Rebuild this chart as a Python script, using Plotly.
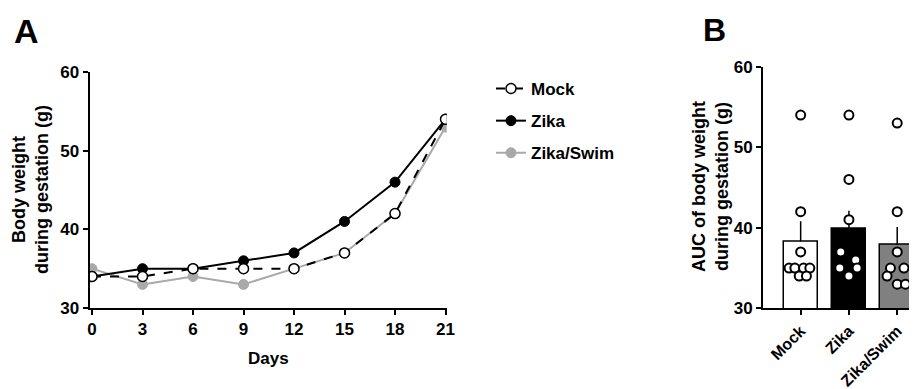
import plotly.graph_objects as go

# ---- Panel A data ----
days = [0, 3, 6, 9, 12, 15, 18, 21]
mock_weight = [34, 34, 35, 35, 35, 37, 42, 54]
zika_weight = [34, 35, 35, 36, 37, 41, 46, 54]
swim_weight = [35, 33, 34, 33, 35, 37, 42, 53]
day_ticks = [0, 3, 6, 9, 12, 15, 18, 21]
weight_ticks = [30, 40, 50, 60]

# ---- Panel B data ----
groups = ["Mock", "Zika", "Zika/Swim"]
auc_mean = [38.3, 39.9, 37.9]
auc_sem = [2.5, 2.2, 2.2]
mock_auc = [54, 42, 37, 35, 35, 35, 35, 34, 34]
zika_auc = [54, 46, 41, 37, 36, 35, 35, 34]
swim_auc = [53, 42, 37, 35, 35, 34, 33, 33]
# horizontal jitter (category units) used only for drawing the dots
mock_jit = [0, 0, 0, -0.24, -0.12, 0.06, 0.19, -0.03, 0.12]
zika_jit = [0, 0, 0, -0.17, 0.14, -0.19, 0.17, 0]
swim_jit = [0, 0, 0, -0.14, 0.14, -0.21, 0, 0.17]

FONT = "Liberation Sans, Arial, sans-serif"
GREY_LINE = "#a9a9a9"
GREY_BAR = "#808080"

W, H = 917, 389
OFF = 8  # page body margin


def px(sx):
    return (sx - OFF) / W


def py(sy):
    return (H - (sy - OFF)) / H


fig = go.Figure()

# Panel A traces (draw order: Swim, Zika, Mock on top)
fig.add_trace(go.Scatter(
    x=days, y=swim_weight, name="Zika/Swim", mode="lines+markers",
    line=dict(color=GREY_LINE, width=2),
    marker=dict(color=GREY_LINE, size=10, line=dict(color=GREY_LINE, width=1)),
    xaxis="x", yaxis="y", legendrank=3, legendgroup="c"))
fig.add_trace(go.Scatter(
    x=days, y=zika_weight, name="Zika", mode="lines+markers",
    line=dict(color="black", width=2),
    marker=dict(color="black", size=10, line=dict(color="black", width=1)),
    xaxis="x", yaxis="y", legendrank=2, legendgroup="b"))
fig.add_trace(go.Scatter(
    x=days, y=mock_weight, name="Mock", mode="lines+markers",
    line=dict(color="black", width=2, dash="dash"),
    marker=dict(color="white", size=10, line=dict(color="black", width=1.5)),
    xaxis="x", yaxis="y", legendrank=1, legendgroup="a"))

# Panel B bars
fig.add_trace(go.Bar(
    x=[0, 1, 2], y=auc_mean, width=0.7,
    marker=dict(color=["white", "black", GREY_BAR], line=dict(color="black", width=1.5)),
    error_y=dict(type="data", array=auc_sem, arrayminus=[0, 0, 0], symmetric=False,
                 color="black", thickness=1.5, width=0),
    xaxis="x2", yaxis="y2", showlegend=False))

for gi, (vals, jit) in enumerate([(mock_auc, mock_jit), (zika_auc, zika_jit), (swim_auc, swim_jit)]):
    fig.add_trace(go.Scatter(
        x=[gi + j for j in jit], y=vals, mode="markers",
        marker=dict(color="white", size=9, line=dict(color="black", width=2)),
        xaxis="x2", yaxis="y2", showlegend=False))

TICKFONT = dict(family=FONT, size=17, color="black", weight="bold")
axis_common = dict(showgrid=False, zeroline=False, showline=True, linecolor="black",
                   linewidth=2, ticks="outside", tickwidth=2, ticklen=5, tickcolor="black",
                   automargin=False)

fig.update_layout(
    width=W, height=H, margin=dict(l=0, r=0, t=0, b=0, autoexpand=False),
    paper_bgcolor="white", plot_bgcolor="white",
    font=dict(family=FONT, color="black"),
    bargap=0,
    xaxis=dict(domain=[px(89.5), px(446.7)], range=[-0.15, 21.07], anchor="y",
               tickmode="array", tickvals=day_ticks, tickfont=TICKFONT, **axis_common),
    yaxis=dict(domain=[py(308), py(72)], range=[30, 60], anchor="x",
               tickmode="array", tickvals=weight_ticks, tickfont=TICKFONT, **axis_common),
    xaxis2=dict(domain=[px(763), px(917)], range=[-0.78, 2.41], anchor="y2",
                tickmode="array", tickvals=[0, 1, 2], ticktext=groups, tickangle=-45,
                tickfont=dict(family=FONT, size=16, color="black", weight="bold"),
                **axis_common),
    yaxis2=dict(domain=[py(308.3), py(66.7)], range=[30, 60], anchor="x2",
                tickmode="array", tickvals=weight_ticks, tickfont=TICKFONT, **axis_common),
    legend=dict(x=px(491), y=py(71), xanchor="left", yanchor="top",
                font=dict(family=FONT, size=17, color="black", weight="bold"),
                tracegroupgap=7, bgcolor="rgba(0,0,0,0)", itemwidth=30),
    annotations=[
        dict(text="<b>A</b>", x=px(26), y=py(31), xref="paper", yref="paper",
             xanchor="center", yanchor="middle", showarrow=False,
             font=dict(family=FONT, size=34, color="black")),
        dict(text="<b>B</b>", x=px(714), y=py(30), xref="paper", yref="paper",
             xanchor="center", yanchor="middle", showarrow=False,
             font=dict(family=FONT, size=32, color="black")),
        dict(text="<b>Body weight<br>during gestation (g)</b>", x=px(31), y=py(190),
             xref="paper", yref="paper", xanchor="center", yanchor="middle",
             textangle=-90, showarrow=False,
             font=dict(family=FONT, size=18, color="black")),
        dict(text="<b>Days</b>", x=px(268), y=py(358), xref="paper", yref="paper",
             xanchor="center", yanchor="middle", showarrow=False,
             font=dict(family=FONT, size=17, color="black")),
        dict(text="<b>AUC of body weight<br>during gestation (g)</b>", x=px(710), y=py(187),
             xref="paper", yref="paper", xanchor="center", yanchor="middle",
             textangle=-90, showarrow=False,
             font=dict(family=FONT, size=18, color="black")),
    ],
)

fig.write_html("out.html")
